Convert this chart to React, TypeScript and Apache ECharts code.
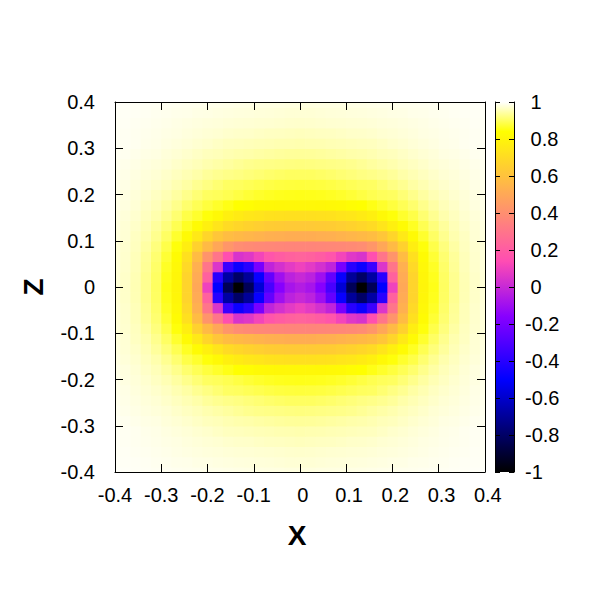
import React, { useEffect, useRef } from "react";
import * as echarts from "echarts";

// The picture is symmetric about both axes; values were read from the
// upper-right quadrant at x, z = 0 .. 0.4 in 18 steps (step 0.4/18).
const HALF = 0.4;
const N = 18;
const STEP = HALF / N;

const xTicks = [-0.4, -0.3, -0.2, -0.1, 0, 0.1, 0.2, 0.3, 0.4];
const cbTicks = [-1, -0.8, -0.6, -0.4, -0.2, 0, 0.2, 0.4, 0.6, 0.8, 1];

// rowNN: z = NN*STEP, columns x = 0 .. 0.4
const row00 = [-0.05, -0.08, -0.16, -0.32, -0.58, -0.83, -1.0, -0.83, -0.5, 0.1, 0.5, 0.67, 0.8, 0.855, 0.9, 0.93, 0.953, 0.966, 0.975];
const row01 = [0.0, -0.03, -0.1, -0.25, -0.48, -0.7, -0.8, -0.68, -0.4, 0.22, 0.51, 0.67, 0.805, 0.858, 0.901, 0.93, 0.954, 0.966, 0.975];
const row02 = [0.1, 0.07, 0.03, -0.02, -0.2, -0.4, -0.47, -0.35, 0.05, 0.3, 0.53, 0.69, 0.81, 0.864, 0.905, 0.934, 0.956, 0.968, 0.976];
const row03 = [0.23, 0.22, 0.2, 0.17, 0.11, 0.06, 0.04, 0.15, 0.3, 0.42, 0.575, 0.72, 0.823, 0.873, 0.91, 0.937, 0.957, 0.969, 0.976];
const row04 = [0.36, 0.36, 0.362, 0.366, 0.372, 0.38, 0.39, 0.427, 0.494, 0.569, 0.659, 0.771, 0.847, 0.886, 0.918, 0.943, 0.96, 0.97, 0.977];
const row05 = [0.52, 0.52, 0.525, 0.53, 0.54, 0.55, 0.565, 0.58, 0.617, 0.678, 0.75, 0.82, 0.869, 0.902, 0.929, 0.95, 0.962, 0.973, 0.979];
const row06 = [0.63, 0.63, 0.635, 0.64, 0.65, 0.665, 0.68, 0.7, 0.735, 0.78, 0.823, 0.862, 0.891, 0.916, 0.938, 0.955, 0.966, 0.974, 0.98];
const row07 = [0.72, 0.72, 0.723, 0.728, 0.735, 0.745, 0.76, 0.78, 0.814, 0.846, 0.868, 0.885, 0.91, 0.931, 0.949, 0.96, 0.97, 0.976, 0.982];
const row08 = [0.81, 0.81, 0.812, 0.815, 0.82, 0.83, 0.84, 0.853, 0.866, 0.879, 0.893, 0.908, 0.927, 0.943, 0.956, 0.965, 0.974, 0.98, 0.985];
const row09 = [0.855, 0.856, 0.858, 0.862, 0.867, 0.874, 0.882, 0.89, 0.896, 0.9, 0.913, 0.927, 0.941, 0.953, 0.962, 0.97, 0.976, 0.981, 0.986];
const row10 = [0.877, 0.878, 0.88, 0.884, 0.889, 0.894, 0.899, 0.901, 0.911, 0.921, 0.931, 0.943, 0.952, 0.961, 0.968, 0.974, 0.979, 0.984, 0.987];
const row11 = [0.9, 0.9, 0.903, 0.907, 0.912, 0.916, 0.921, 0.925, 0.93, 0.937, 0.946, 0.953, 0.96, 0.967, 0.973, 0.977, 0.981, 0.985, 0.988];
const row12 = [0.919, 0.92, 0.922, 0.924, 0.926, 0.929, 0.934, 0.94, 0.945, 0.95, 0.956, 0.961, 0.967, 0.973, 0.977, 0.98, 0.984, 0.987, 0.99];
const row13 = [0.936, 0.937, 0.939, 0.941, 0.944, 0.947, 0.949, 0.952, 0.956, 0.959, 0.964, 0.969, 0.973, 0.977, 0.982, 0.984, 0.987, 0.99, 0.992];
const row14 = [0.95, 0.951, 0.952, 0.954, 0.955, 0.957, 0.959, 0.96, 0.964, 0.968, 0.971, 0.975, 0.978, 0.981, 0.985, 0.987, 0.99, 0.992, 0.994];
const row15 = [0.959, 0.96, 0.961, 0.962, 0.964, 0.966, 0.967, 0.969, 0.972, 0.974, 0.976, 0.979, 0.982, 0.984, 0.986, 0.988, 0.99, 0.992, 0.994];
const row16 = [0.968, 0.969, 0.97, 0.971, 0.972, 0.973, 0.974, 0.975, 0.977, 0.978, 0.98, 0.982, 0.984, 0.986, 0.988, 0.99, 0.991, 0.993, 0.994];
const row17 = [0.974, 0.974, 0.975, 0.976, 0.977, 0.978, 0.979, 0.98, 0.981, 0.983, 0.984, 0.986, 0.987, 0.989, 0.99, 0.992, 0.993, 0.994, 0.995];
const row18 = [0.98, 0.98, 0.981, 0.981, 0.982, 0.983, 0.984, 0.985, 0.986, 0.987, 0.988, 0.989, 0.99, 0.991, 0.992, 0.993, 0.994, 0.995, 0.996];

const quadrant = [row00, row01, row02, row03, row04, row05, row06, row07, row08, row09, row10, row11, row12, row13, row14, row15, row16, row17, row18];

// gnuplot palette rgbformulae 30,31,32 (colour map only)
function clamp01(v: number) {
  return Math.max(0, Math.min(1, v));
}
function paletteColor(v: number): string {
  const g = (v + 1) / 2;
  const r = clamp01(g / 0.32 - 0.78125);
  const gr = clamp01(2 * g - 0.84);
  let b: number;
  if (g < 0.25) b = 4 * g;
  else if (g < 0.42) b = 1;
  else if (g < 0.92) b = -2 * g + 1.84;
  else b = g / 0.08 - 11.5;
  b = clamp01(b);
  const h = (c: number) => Math.round(c * 255);
  return `rgb(${h(r)},${h(gr)},${h(b)})`;
}

const STOPS = 100;
const paletteColors: string[] = [];
for (let k = 0; k <= STOPS; k++) paletteColors.push(paletteColor(-1 + (2 * k) / STOPS));

function buildCells() {
  const cells: number[][] = [];
  for (let jj = -N; jj <= N; jj++) {
    for (let ii = -N; ii <= N; ii++) {
      cells.push([ii * STEP, jj * STEP, quadrant[Math.abs(jj)][Math.abs(ii)]]);
    }
  }
  return cells;
}

const FONT = "'Liberation Sans', Arial, sans-serif";
const FS = 20;

// gnuplot "% h": non-negative numbers get a leading space
function spaced(v: number) {
  const s = String(Math.round(v * 10) / 10);
  return v >= -1e-9 ? `{p|${s}}` : `{n|${s}}`;
}
const richLabel = {
  p: { fontSize: FS, fontFamily: FONT, color: "#000", padding: [0, 0, 0, FS * 0.278] },
  n: { fontSize: FS, fontFamily: FONT, color: "#000" },
};

export default function App() {
  const ref = useRef<HTMLDivElement>(null);
  useEffect(() => {
    if (!ref.current) return;
    const chart = echarts.init(ref.current, undefined, { renderer: "svg" });
    const axisCommon = {
      type: "value" as const,
      min: xTicks[0],
      max: xTicks[xTicks.length - 1],
      interval: 0.1,
      z: 5,
      splitLine: { show: false },
      axisLine: { show: true, onZero: false, lineStyle: { color: "#000", width: 1 } },
      axisTick: { show: true, inside: true, length: 8, lineStyle: { color: "#000", width: 1 } },
    };
    const labelStyle = { color: "#000", fontSize: FS, fontFamily: FONT, showMinLabel: true, showMaxLabel: true };
    const cbAxis = {
      type: "value" as const,
      gridIndex: 1,
      min: cbTicks[0],
      max: cbTicks[cbTicks.length - 1],
      interval: 0.2,
      z: 5,
      splitLine: { show: false },
      axisLine: { show: true, onZero: false, lineStyle: { color: "#000", width: 1 } },
      axisTick: { show: true, inside: true, length: 5, lineStyle: { color: "#000", width: 1 } },
    };
    const gradStops = [] as { offset: number; color: string }[];
    for (let k = 0; k <= STOPS; k++) {
      gradStops.push({ offset: k / STOPS, color: paletteColor(1 - (2 * k) / STOPS) });
    }
    chart.setOption({
      animation: false,
      backgroundColor: "#fff",
      grid: [
        { left: 115, top: 102, width: 370, height: 370 },
        { left: 495, top: 102, width: 19, height: 370 },
      ],
      xAxis: [
        {
          ...axisCommon,
          gridIndex: 0,
          position: "bottom",
          axisLabel: { ...labelStyle, margin: 13, formatter: spaced, rich: richLabel },
        },
        { ...axisCommon, gridIndex: 0, position: "top", axisLabel: { show: false } },
        { type: "value", gridIndex: 1, min: 0, max: 1, show: false },
      ],
      yAxis: [
        { ...axisCommon, gridIndex: 0, position: "left", axisLabel: { ...labelStyle, margin: 20 } },
        { ...axisCommon, gridIndex: 0, position: "right", axisLabel: { show: false } },
        {
          ...cbAxis,
          position: "right",
          axisLabel: { ...labelStyle, margin: 11, formatter: spaced, rich: richLabel },
        },
        { ...cbAxis, position: "left", axisLabel: { show: false } },
      ],
      visualMap: {
        type: "continuous",
        show: false,
        min: -1,
        max: 1,
        dimension: 2,
        seriesIndex: 0,
        inRange: { color: paletteColors },
      },
      graphic: [
        {
          type: "text",
          x: 297,
          y: 535,
          style: { text: "X", fill: "#000", font: `bold 28px ${FONT}`, align: "center", verticalAlign: "middle" },
        },
        {
          type: "text",
          x: 33,
          y: 287,
          rotation: Math.PI / 2,
          style: { text: "Z", fill: "#000", font: `bold 28px ${FONT}`, align: "center", verticalAlign: "middle" },
        },
      ],
      series: [
        {
          type: "custom",
          xAxisIndex: 0,
          yAxisIndex: 0,
          clip: true,
          z: 1,
          encode: { x: 0, y: 1 },
          data: buildCells(),
          renderItem: (_params: any, api: any) => {
            const x = api.value(0);
            const z = api.value(1);
            const p0 = api.coord([x - STEP / 2, z + STEP / 2]);
            const p1 = api.coord([x + STEP / 2, z - STEP / 2]);
            return {
              type: "rect",
              shape: { x: p0[0], y: p0[1], width: p1[0] - p0[0] + 0.7, height: p1[1] - p0[1] + 0.7 },
              style: { fill: api.visual("color") },
            };
          },
        },
        {
          type: "custom",
          xAxisIndex: 2,
          yAxisIndex: 2,
          z: 1,
          data: [[0, 0]],
          renderItem: (_params: any, api: any) => {
            const p0 = api.coord([0, 1]);
            const p1 = api.coord([1, -1]);
            return {
              type: "rect",
              shape: { x: p0[0], y: p0[1], width: p1[0] - p0[0], height: p1[1] - p0[1] },
              style: { fill: new echarts.graphic.LinearGradient(0, 0, 0, 1, gradStops) },
            };
          },
        },
      ],
    });
    return () => chart.dispose();
  }, []);
  return <div ref={ref} style={{ width: 600, height: 600, margin: -8 }} />;
}
